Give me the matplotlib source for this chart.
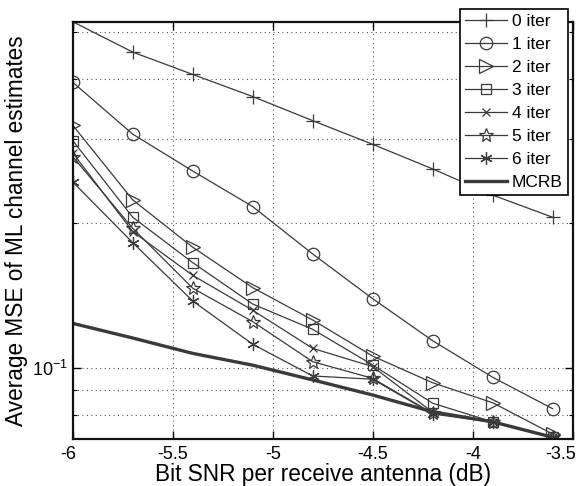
import matplotlib.pyplot as plt
import numpy as np
from matplotlib.ticker import LogLocator, NullFormatter, FixedLocator
from matplotlib.transforms import ScaledTranslation

plt.rcParams['font.family'] = ['Liberation Sans', 'DejaVu Sans']
plt.rcParams['mathtext.fontset'] = 'custom'
plt.rcParams['mathtext.rm'] = 'Liberation Sans'

# Bit SNR (dB)
snr = [-6.0, -5.7, -5.4, -5.1, -4.8, -4.5, -4.2, -3.9, -3.6]

# Average MSE per iteration
iter0 = [0.525, 0.454, 0.408, 0.367, 0.327, 0.292, 0.2596, 0.229, 0.206]
iter1 = [0.393, 0.3066, 0.257, 0.2168, 0.1728, 0.1395, 0.1141, 0.0958, 0.0824]
iter2 = [0.320, 0.2238, 0.1785, 0.1471, 0.126, 0.106, 0.0933, 0.0848, 0.0730]
iter3 = [0.2973, 0.206, 0.1658, 0.136, 0.1205, 0.1016, 0.0846, 0.0774, 0.0720]
iter4 = [0.2803, 0.1923, 0.156, 0.132, 0.110, 0.1008, 0.0810, 0.0774, 0.0719]
iter5 = [0.2754, 0.1954, 0.1467, 0.125, 0.1032, 0.0953, 0.0806, 0.0774, 0.0719]
iter6 = [0.244, 0.1824, 0.138, 0.1122, 0.0964, 0.0949, 0.0804, 0.0772, 0.0718]
mcrb = [0.124, 0.1156, 0.1074, 0.1015, 0.0946, 0.088, 0.0812, 0.0774, 0.0719]

labels = ['0 iter', '1 iter', '2 iter', '3 iter', '4 iter', '5 iter', '6 iter', 'MCRB']
xticks = [-6, -5.5, -5, -4.5, -4, -3.5]
xticklabels = ['-6', '-5.5', '-5', '-4.5', '-4', '-3.5']

fig = plt.figure(figsize=(5.79, 4.86), dpi=100)
ax = fig.add_axes([0.1256, 0.0967, 0.8635, 0.8586])

lc = '#3a3a3a'
series = [iter0, iter1, iter2, iter3, iter4, iter5, iter6]
markers = ['+', 'o', '>', 's', 'x', '*', (6, 2, 0)]
msizes = [10, 9, 10, 7, 6, 10, 9]

for vals, m, ms, lab in zip(series, markers, msizes, labels):
    ax.plot(snr, vals, color=lc, lw=0.9, marker=m, ms=ms, mfc='none',
            mec=lc, mew=0.9, label=lab)
ax.plot(snr, mcrb, color=lc, lw=2.4, label=labels[-1])

ax.set_yscale('log')
ax.set_xlim(-6, -3.5)
ax.set_ylim(0.0713, 0.525)
ax.xaxis.set_major_locator(FixedLocator(xticks))
ax.set_xticklabels(xticklabels)
ax.yaxis.set_major_locator(LogLocator(base=10))
ax.yaxis.set_minor_locator(LogLocator(base=10, subs=np.arange(2, 10)))
ax.yaxis.set_minor_formatter(NullFormatter())

ax.grid(True, which='major', ls=(0, (1, 3)), color='#555555', lw=0.8)
ax.grid(True, which='minor', axis='y', ls=(0, (1, 3)), color='#555555', lw=0.8)

ax.tick_params(which='both', direction='in', top=True, right=True,
               labelsize=13, colors='black')
ax.tick_params(which='major', length=6, width=1)
ax.tick_params(which='minor', length=3, width=0.8)
ax.tick_params(axis='x', pad=5)
for s in ax.spines.values():
    s.set_linewidth(1.6)
    s.set_color('#111111')

# nudge end labels inward like the original
lbls = ax.get_xticklabels()
lbls[0].set_transform(lbls[0].get_transform() + ScaledTranslation(-4 / 100, 0, fig.dpi_scale_trans))
lbls[-1].set_transform(lbls[-1].get_transform() + ScaledTranslation(-12 / 100, 0, fig.dpi_scale_trans))

ax.set_xlabel('Bit SNR per receive antenna (dB)', fontsize=16.3)
ax.xaxis.set_label_coords(0.5, -0.057)
ax.set_ylabel('Average MSE of ML channel estimates', fontsize=16.3, labelpad=3)

leg = ax.legend(loc='upper right', bbox_to_anchor=(0.991, 1.0304),
                borderaxespad=0, fontsize=12.5, frameon=True, fancybox=False,
                edgecolor='black', framealpha=1, handlelength=2.4,
                handletextpad=0.3, labelspacing=0.45, borderpad=0.3)
leg.get_frame().set_linewidth(1.2)
leg.set_zorder(5)

fig.savefig('out.png', dpi=100)
